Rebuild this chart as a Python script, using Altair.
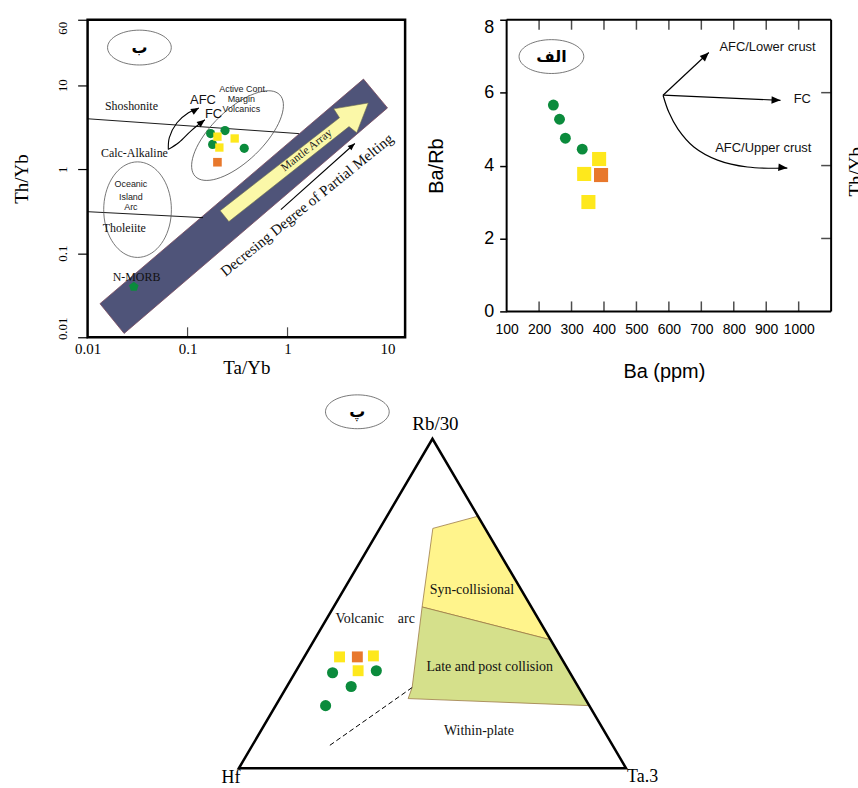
import math
import altair as alt
import pandas as pd

# ---------------------------------------------------------------- styling
SERIF = "Liberation Serif"
SANS = "Liberation Sans"
NARROW = "Liberation Sans Narrow, Liberation Sans"
ARABIC = "DejaVu Sans"
GREEN = "#0b8b3c"
YELLOW = "#fee81c"
ORANGE = "#e8782c"

# ------------------------------------------- panel ب : Th/Yb vs Ta/Yb (log-log)
tayb_circles = [0.170, 0.237, 0.178, 0.369]
thyb_circles = [2.65, 2.88, 1.97, 1.77]
tayb_squares = [0.199, 0.296, 0.208]
thyb_squares = [2.44, 2.32, 1.81]
tayb_orange = [0.199]
thyb_orange = [1.21]
tayb_nmorb = [0.029]
thyb_nmorb = [0.040]

band_tayb = [0.0133, 5.75, 10.0, 0.0232]
band_thyb = [0.0251, 11.8, 5.36, 0.0111]
array_tayb = [0.212, 3.31, 2.90, 6.42, 4.92, 4.12, 0.259]
array_thyb = [0.321, 4.09, 5.22, 6.14, 2.72, 3.21, 0.238]
shoshonite_tayb = [0.01, 1.30]
shoshonite_thyb = [3.98, 2.65]
tholeiite_tayb = [0.01, 0.1426]
tholeiite_thyb = [0.312, 0.265]
afc_tayb = [0.0642, 0.0657, 0.0784, 0.102, 0.130]
afc_thyb = [1.72, 2.38, 3.57, 4.69, 5.36]
fc_tayb = [0.0642, 0.0819, 0.109, 0.149]
fc_thyb = [1.72, 2.08, 2.88, 3.87]
melt_tayb = [0.857, 4.71]
melt_thyb = [0.33, 2.02]

series_names = ["Shoshonite", "Calc-Alkaline", "Tholeiite", "N-MORB"]
series_tayb = [0.0149, 0.0136, 0.0142, 0.0178]
series_thyb = [5.66, 1.54, 0.197, 0.052]
setting_names = ["Oceanic", "Island", "Arc", "Active Cont.", "Margin", "Volcanics"]
setting_tayb = [0.0271, 0.0271, 0.0271, 0.361, 0.345, 0.345]
setting_thyb = [0.667, 0.469, 0.357, 8.97, 6.84, 5.22]
trend_names = ["AFC", "FC"]
trend_tayb = [0.1426, 0.182]
trend_thyb = [6.66, 4.56]

# ------------------------------------------------ panel الف : Ba/Rb vs Ba (ppm)
ba_circles = [244, 263, 281, 333]
barb_circles = [5.66, 5.27, 4.75, 4.45]
ba_squares = [385, 339, 352]
barb_squares = [4.18, 3.77, 3.0]
ba_orange = [391]
barb_orange = [3.74]
lower_ba = [582, 723]
lower_barb = [5.93, 7.10]
fcv_ba = [582, 944]
fcv_barb = [5.93, 5.79]
upper_ba = [582, 600, 628, 677, 750, 842, 965]
upper_barb = [5.93, 5.46, 5.0, 4.51, 4.15, 3.96, 3.93]
vector_names = ["AFC/Lower crust", "FC", "AFC/Upper crust"]
vector_ba = [904, 1011, 891]
vector_barb = [7.24, 5.82, 4.48]
frame_ba = [100, 100, 100, 1100]
frame_ba2 = [1100, 1100, 100, 1100]
frame_barb = [0, 8, 0, 0]
frame_barb2 = [0, 8, 8, 8]

# --------------------------------------- panel پ : Rb/30 - Hf - Ta*3 ternary
hf_squares = [0.571, 0.482, 0.544]
rb_squares = [0.338, 0.341, 0.296]
ta_squares = [0.091, 0.177, 0.160]
hf_orange = [0.525]
rb_orange = [0.338]
ta_orange = [0.137]
hf_circles = [0.613, 0.497, 0.586, 0.681]
rb_circles = [0.290, 0.296, 0.248, 0.190]
ta_circles = [0.097, 0.207, 0.166, 0.129]

syn_hf = [0.135, 0.0, 0.0, 0.282]
syn_rb = [0.728, 0.765, 0.39, 0.4895]
syn_ta = [0.137, 0.235, 0.61, 0.2285]
late_hf = [0.282, 0.0, 0.0, 0.457, 0.430]
late_rb = [0.4895, 0.39, 0.19, 0.2115, 0.245]
late_ta = [0.2285, 0.61, 0.81, 0.3315, 0.325]
split_hf = [0.430, 0.7355]
split_rb = [0.245, 0.0665]
split_ta = [0.325, 0.198]

NBSP = "\u00a0"
field_names = ["Syn-collisional", "Volcanic" + NBSP * 4 + "arc",
               "Late and post collision", "Within-plate"]
field_hf = [0.128, 0.4215, 0.198, 0.324]
field_rb = [0.540, 0.453, 0.308, 0.112]
field_ta = [0.332, 0.1255, 0.494, 0.564]


# ---------------------------------------------------------------- helpers
def table(**cols):
    return pd.DataFrame(cols)


def ellipse_path(ratio, n=72):
    pts = []
    for k in range(n):
        t = 2 * math.pi * k / n
        pts.append(f"{math.cos(t):.4f},{ratio * math.sin(t):.4f}")
    return "M" + " L".join(pts) + " Z"


def pentagon_path():
    pts = []
    for k in range(5):
        t = math.radians(-90 + 72 * k)
        pts.append(f"{math.cos(t):.4f},{math.sin(t):.4f}")
    return "M" + " L".join(pts) + " Z"


ARROW_PATH = "M0,0 L0.42,1 L-0.42,1 Z"


def ternary(hf, rb, ta):
    xs, ys = [], []
    for a, b, c in zip(hf, rb, ta):
        s = a + b + c
        b, c = b / s, c / s
        xs.append(c + b / 2)
        ys.append(b * math.sqrt(3) / 2)
    return xs, ys


# ---------------------------------------------------------------- panel ب
LX = alt.Scale(type="log", domain=[0.01, 15], nice=False)
LY = alt.Scale(type="log", domain=[0.01, 60], nice=False)
L_XAXIS = alt.Axis(values=[0.01, 0.1, 1, 10], format="~g", title="Ta/Yb", ticks=False,
                   domain=False, grid=False, labelOverlap=False, labelFlush=False,
                   labelFont=SERIF, labelFontSize=15, labelPadding=4, titleFont=SERIF,
                   titleFontSize=19, titleFontWeight="normal", titlePadding=2)
L_YAXIS = alt.Axis(values=[0.01, 0.1, 1, 10, 60], format="~g", title="Th/Yb",
                   tickSize=10, tickWidth=1.2, domain=False, grid=False, labelOverlap=False,
                   labelFlush=False, labelAngle=270, labelAlign="center",
                   labelBaseline="bottom",
                   labelOffset={"condition": [{"test": "datum.value == 60", "value": 8},
                                              {"test": "datum.value == 0.01", "value": -9}],
                                "value": 0},
                   labelFont=SERIF, labelFontSize=13, labelPadding=8,
                   titleFont=SERIF, titleFontSize=19, titleFontWeight="normal",
                   titlePadding=25)


def lpos():
    return dict(x=alt.X("x:Q", scale=LX, axis=L_XAXIS),
                y=alt.Y("y:Q", scale=LY, axis=L_YAXIS))


def l_ellipse(cx, cy, rx, ry, angle=0):
    return alt.Chart(table(x=[cx], y=[cy])).mark_point(
        shape=ellipse_path(ry / rx), size=4 * rx * rx, angle=angle, filled=False,
        color="#555555", strokeWidth=0.8, opacity=1).encode(**lpos())


def l_arrowhead(x, y, angle, length=8):
    return alt.Chart(table(x=[x], y=[y])).mark_point(
        shape=ARROW_PATH, size=4 * length * length, angle=angle, filled=True,
        color="black", opacity=1, strokeWidth=0).encode(**lpos())


band = alt.Chart(table(x=band_tayb, y=band_thyb, i=list(range(4)))).mark_line(
    fill="#4f5479", stroke="#7b4b5e", strokeWidth=0.8, interpolate="linear-closed"
).encode(**lpos(), order="i:Q")

array_arrow = alt.Chart(table(x=array_tayb, y=array_thyb, i=list(range(7)))).mark_line(
    fill="#fbf8a8", stroke="#6f6f50", strokeWidth=0.6, interpolate="linear-closed"
).encode(**lpos(), order="i:Q")

bounds_df = pd.concat([
    table(x=shoshonite_tayb, y=shoshonite_thyb, g="s", i=[0, 1]),
    table(x=tholeiite_tayb, y=tholeiite_thyb, g="t", i=[0, 1]),
])
boundaries = alt.Chart(bounds_df).mark_line(color="black", strokeWidth=0.9).encode(
    **lpos(), detail="g:N", order="i:Q")

trend_df = pd.concat([
    table(x=afc_tayb, y=afc_thyb, g="afc", i=list(range(len(afc_tayb)))),
    table(x=fc_tayb, y=fc_thyb, g="fc", i=list(range(len(fc_tayb)))),
    table(x=melt_tayb, y=melt_thyb, g="melt", i=[0, 1]),
])
trends = alt.Chart(trend_df).mark_line(color="black", strokeWidth=1.1,
                                       interpolate="catmull-rom").encode(
    **lpos(), detail="g:N", order="i:Q")

l_circles = alt.Chart(table(x=tayb_circles, y=thyb_circles)).mark_point(
    shape="circle", filled=True, size=85, color=GREEN, opacity=1, strokeWidth=0
).encode(**lpos())
l_squares = alt.Chart(table(x=tayb_squares, y=thyb_squares)).mark_point(
    shape="square", filled=True, size=70, color=YELLOW, opacity=1, strokeWidth=0
).encode(**lpos())
l_orange = alt.Chart(table(x=tayb_orange, y=thyb_orange)).mark_point(
    shape="square", filled=True, size=75, color=ORANGE, opacity=1, strokeWidth=0
).encode(**lpos())
l_nmorb = alt.Chart(table(x=tayb_nmorb, y=thyb_nmorb)).mark_point(
    shape=pentagon_path(), filled=True, size=100, color=GREEN, opacity=1, strokeWidth=0
).encode(**lpos())

series_text = alt.Chart(table(x=series_tayb, y=series_thyb, t=series_names)).mark_text(
    font=SERIF, fontSize=12, align="left", color="#111111").encode(**lpos(), text="t:N")
setting_text = alt.Chart(table(x=setting_tayb, y=setting_thyb, t=setting_names)).mark_text(
    font=SANS, fontSize=9, align="center", color="#222222").encode(**lpos(), text="t:N")
trend_text = alt.Chart(table(x=trend_tayb, y=trend_thyb, t=trend_names)).mark_text(
    font=NARROW, fontSize=13, align="center", color="#111111").encode(**lpos(), text="t:N")
mantle_text = alt.Chart(table(x=[1.56], y=[1.67], t=["Mantle Array"])).mark_text(
    font=SERIF, fontSize=11.5, angle=322, color="#222222").encode(**lpos(), text="t:N")
melt_text = alt.Chart(table(x=[1.556], y=[0.377],
                            t=["Decresing Degree of Partial Melting"])).mark_text(
    font=SERIF, fontSize=15, angle=321, color="#111111").encode(**lpos(), text="t:N")
l_badge = alt.Chart(table(x=[0.033], y=[28], t=["ب"])).mark_text(
    font=ARABIC, fontSize=16, fontWeight="bold", color="black").encode(**lpos(), text="t:N")

l_ticks = alt.Chart(table(x=[0.1, 1], y=[0.01, 0.01])).mark_tick(
    orient="vertical", size=10, thickness=1.2, color="black", yOffset=-5
).encode(**lpos())

left = alt.layer(
    band, boundaries, array_arrow,
    l_ellipse(0.033, 28, 32, 17.5),
    l_ellipse(0.316, 2.51, 59, 26, 316),
    l_ellipse(0.0316, 0.33, 34, 48),
    trends,
    l_arrowhead(afc_tayb[-1], afc_thyb[-1], 60),
    l_arrowhead(fc_tayb[-1], fc_thyb[-1], 52),
    l_arrowhead(melt_tayb[-1], melt_thyb[-1], 49, 7),
    series_text, setting_text, trend_text, mantle_text, melt_text, l_badge,
    l_circles, l_squares, l_orange, l_nmorb, l_ticks,
).properties(width=319, height=319,
             view=alt.ViewBackground(stroke="black", strokeWidth=2.5))

# ---------------------------------------------------------------- panel الف
R_W = 353
RX = alt.Scale(domain=[100, 100 + R_W / 0.326], nice=False, zero=False)
RY = alt.Scale(domain=[0, 8], nice=False, zero=False)
R_XAXIS = alt.Axis(values=list(range(100, 1001, 100)), format="d", title="Ba (ppm)",
                   ticks=False, domain=False, grid=False, labelOverlap=False,
                   labelFlush=False, labelFont=SANS, labelFontSize=14, labelPadding=11,
                   titleFont=SANS, titleFontSize=20, titleFontWeight="normal",
                   titlePadding=25, titleX=158)
R_YAXIS = alt.Axis(values=[0, 2, 4, 6, 8], title="Ba/Rb", tickSize=7, tickWidth=1.5,
                   domain=False, grid=False, labelOverlap=False, labelFlush=False,
                   labelOffset={"condition": {"test": "datum.value == 8", "value": 8},
                                "value": 0},
                   labelFont=SANS, labelFontSize=18, labelPadding=6,
                   titleFont=SANS, titleFontSize=20, titleFontWeight="normal",
                   titlePadding=37)


def rpos():
    return dict(x=alt.X("x:Q", scale=RX, axis=R_XAXIS),
                y=alt.Y("y:Q", scale=RY, axis=R_YAXIS))


frame = alt.Chart(table(x=frame_ba, x2=frame_ba2, y=frame_barb, y2=frame_barb2)).mark_rule(
    color="black", strokeWidth=2).encode(**rpos(), x2="x2:Q", y2="y2:Q")

vec_df = pd.concat([
    table(x=lower_ba, y=lower_barb, g="lower", i=[0, 1]),
    table(x=fcv_ba, y=fcv_barb, g="fc", i=[0, 1]),
    table(x=upper_ba, y=upper_barb, g="upper", i=list(range(len(upper_ba)))),
])
vectors = alt.Chart(vec_df).mark_line(color="black", strokeWidth=1.2,
                                      interpolate="catmull-rom").encode(
    **rpos(), detail="g:N", order="i:Q")


def r_arrowhead(x, y, angle, length=9):
    return alt.Chart(table(x=[x], y=[y])).mark_point(
        shape=ARROW_PATH, size=4 * length * length, angle=angle, filled=True,
        color="black", opacity=1, strokeWidth=0).encode(**rpos())


r_circles = alt.Chart(table(x=ba_circles, y=barb_circles)).mark_point(
    shape="circle", filled=True, size=120, color=GREEN, opacity=1, strokeWidth=0
).encode(**rpos())
r_squares = alt.Chart(table(x=ba_squares, y=barb_squares)).mark_point(
    shape="square", filled=True, size=200, color=YELLOW, opacity=1, strokeWidth=0
).encode(**rpos())
r_orange = alt.Chart(table(x=ba_orange, y=barb_orange)).mark_point(
    shape="square", filled=True, size=200, color=ORANGE, opacity=1, strokeWidth=0
).encode(**rpos())
vector_text = alt.Chart(table(x=vector_ba, y=vector_barb, t=vector_names)).mark_text(
    font=SANS, fontSize=13, color="#111111").encode(**rpos(), text="t:N")
r_badge_ring = alt.Chart(table(x=[238], y=[6.99])).mark_point(
    shape=ellipse_path(17 / 32.5), size=4 * 32.5 * 32.5, filled=False,
    color="#555555", strokeWidth=0.8, opacity=1).encode(**rpos())
r_badge = alt.Chart(table(x=[238], y=[6.99], t=["الف"])).mark_text(
    font=ARABIC, fontSize=16, fontWeight="bold", color="black").encode(**rpos(), text="t:N")
# axis title of the neighbouring panel, cut by the edge of the figure
next_title = alt.Chart(table(x=[1149], y=[3.83], t=["Th/Yb"])).mark_text(
    font=SERIF, fontSize=19, angle=270, baseline="top", color="black", clip=True
).encode(**rpos(), text="t:N")

tick_x = list(range(200, 1001, 100))
r_ticks_bottom = alt.Chart(table(x=tick_x, y=[0] * len(tick_x))).mark_tick(
    orient="vertical", size=10, thickness=1.5, color="black", yOffset=-5).encode(**rpos())
r_ticks_top = alt.Chart(table(x=tick_x, y=[8] * len(tick_x))).mark_tick(
    orient="vertical", size=10, thickness=1.5, color="black", yOffset=5).encode(**rpos())
r_ticks_right = alt.Chart(table(x=[1100] * 3, y=[2, 4, 6])).mark_tick(
    orient="horizontal", size=10, thickness=1.5, color="black", xOffset=-5).encode(**rpos())

right = alt.layer(
    frame, vectors,
    r_arrowhead(lower_ba[-1], lower_barb[-1], 46),
    r_arrowhead(fcv_ba[-1], fcv_barb[-1], 92),
    r_arrowhead(upper_ba[-1], upper_barb[-1], 95),
    vector_text, r_badge_ring, r_badge, next_title,
    r_circles, r_squares, r_orange,
    r_ticks_bottom, r_ticks_top, r_ticks_right,
).properties(width=R_W, height=293)

# ---------------------------------------------------------------- panel پ
B_W, B_H = 772, 404
bx0, by1 = -0.3907, 1.0073
BX = alt.Scale(domain=[bx0, bx0 + B_W / 389.0], nice=False, zero=False)
BY = alt.Scale(domain=[by1 - B_H / 382.2, by1], nice=False, zero=False)


def bpos():
    return dict(x=alt.X("x:Q", scale=BX, axis=None),
                y=alt.Y("y:Q", scale=BY, axis=None))


def polygon(hf, rb, ta, **mark):
    xs, ys = ternary(hf, rb, ta)
    return alt.Chart(table(x=xs, y=ys, i=list(range(len(xs))))).mark_line(
        interpolate="linear-closed", **mark).encode(**bpos(), order="i:Q")


outline = polygon([1, 0, 0], [0, 1, 0], [0, 0, 1], stroke="black", strokeWidth=2.5)
syn = polygon(syn_hf, syn_rb, syn_ta, fill="#fff48c", stroke="#9c7b45", strokeWidth=0.8)
late = polygon(late_hf, late_rb, late_ta, fill="#d5e08b", stroke="#9c7b45", strokeWidth=0.8)
sx, sy = ternary(split_hf, split_rb, split_ta)
split = alt.Chart(table(x=sx, y=sy, i=[0, 1])).mark_line(
    color="black", strokeWidth=1, strokeDash=[5, 3]).encode(**bpos(), order="i:Q")

cx, cy = ternary(hf_circles, rb_circles, ta_circles)
qx, qy = ternary(hf_squares, rb_squares, ta_squares)
ox, oy = ternary(hf_orange, rb_orange, ta_orange)
b_circles = alt.Chart(table(x=cx, y=cy)).mark_point(
    shape="circle", filled=True, size=125, color=GREEN, opacity=1, strokeWidth=0
).encode(**bpos())
b_squares = alt.Chart(table(x=qx, y=qy)).mark_point(
    shape="square", filled=True, size=120, color=YELLOW, opacity=1, strokeWidth=0
).encode(**bpos())
b_orange = alt.Chart(table(x=ox, y=oy)).mark_point(
    shape="square", filled=True, size=120, color=ORANGE, opacity=1, strokeWidth=0
).encode(**bpos())

fx, fy = ternary(field_hf, field_rb, field_ta)
field_text = alt.Chart(table(x=fx, y=fy, t=field_names)).mark_text(
    font=SERIF, fontSize=14, color="#111111").encode(**bpos(), text="t:N")

apex = alt.Chart(table(x=[0.5], y=[math.sqrt(3) / 2], t=["Rb/30"])).mark_text(
    font=SERIF, fontSize=19, baseline="bottom", dy=-5, dx=3, color="black", clip=True
).encode(**bpos(), text="t:N")
hf_label = alt.Chart(table(x=[0.0], y=[0.0], t=["Hf"])).mark_text(
    font=SERIF, fontSize=18, baseline="top", dy=1, dx=-8, color="black", clip=True
).encode(**bpos(), text="t:N")
ta_label = alt.Chart(table(x=[1.0], y=[0.0], t=["Ta.3"])).mark_text(
    font=SERIF, fontSize=18, baseline="top", align="left", dy=0, dx=1, color="black",
    clip=True
).encode(**bpos(), text="t:N")
b_badge_ring = alt.Chart(table(x=[0.306], y=[0.937])).mark_point(
    shape=ellipse_path(17 / 32.0), size=4 * 32 * 32, filled=False,
    color="#555555", strokeWidth=0.8, opacity=1).encode(**bpos())
b_badge = alt.Chart(table(x=[0.306], y=[0.937], t=["پ"])).mark_text(
    font=ARABIC, fontSize=16, fontWeight="bold", color="black").encode(**bpos(), text="t:N")

bottom = alt.layer(
    syn, late, split, outline, field_text, apex, hf_label, ta_label,
    b_badge_ring, b_badge, b_squares, b_orange, b_circles,
).properties(width=B_W, height=B_H)

chart = alt.vconcat(
    alt.hconcat(left, right, spacing=19),
    bottom,
    spacing=4,
).properties(
    padding={"left": 11, "top": 16, "right": 0, "bottom": 0},
    background="white",
).configure_view(stroke=None).configure_axis(
    labelColor="black", titleColor="black", tickColor="black"
)

chart.save("out.html", embed_options={"renderer": "svg", "actions": False})
